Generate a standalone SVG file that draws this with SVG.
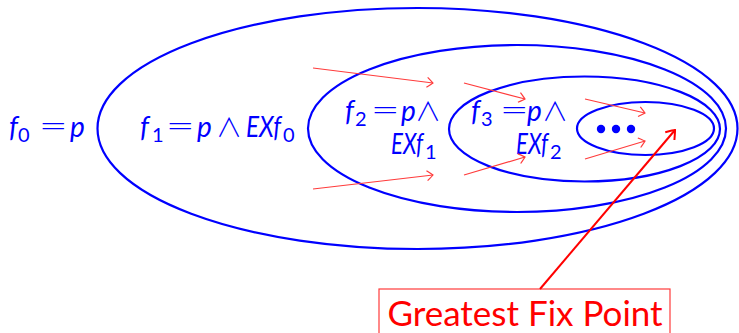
<svg xmlns="http://www.w3.org/2000/svg" width="739" height="333" viewBox="0 0 739 333">
  <style>
    .set { fill: none; stroke: #0000ff; stroke-width: 2.2; }
    .t { font-family: Lato, "Open Sans", sans-serif; fill: #0000ff; }
    .it { font-size: 28px; font-style: italic; }
    .sub { font-size: 20px; }
    .op { font-family: "DejaVu Sans", sans-serif; font-size: 34px; font-weight: 200; }
    .wedge { font-family: "Noto Sans CJK JP", "DejaVu Sans", sans-serif; font-size: 26px; font-weight: 300; }
    .flow { fill: none; stroke: #ff3b3b; stroke-width: 1.2; marker-end: url(#thin); }
    .gfp { fill: none; stroke: #ff0000; stroke-width: 2; marker-end: url(#thick); }
  </style>
  <defs>
    <marker id="thin" viewBox="-8 -6 10 12" refX="0" refY="0" markerWidth="10" markerHeight="12" markerUnits="userSpaceOnUse" orient="auto">
      <path d="M-6,-5 Q-1,-1 0,0 Q-1,1 -6,5" fill="none" stroke="#ff3b3b" stroke-width="1.2"/>
    </marker>
    <marker id="thick" viewBox="-10 -8 12 16" refX="0" refY="0" markerWidth="12" markerHeight="16" markerUnits="userSpaceOnUse" orient="auto">
      <path d="M-8,-6 Q-1,-1 0,0 Q-1,1 -8,6" fill="none" stroke="#ff0000" stroke-width="2"/>
    </marker>
  </defs>

  <g id="f0">
    <text class="t it" x="9" y="137">f</text>
    <text class="t sub" x="18" y="142">0</text>
    <text class="t op" x="39" y="137">=</text>
    <text class="t it" x="70" y="137">p</text>
  </g>

  <g id="f1">
    <ellipse class="set" cx="417.5" cy="128.5" rx="320" ry="120.5"/>
    <text class="t it" x="140" y="137">f</text>
    <text class="t sub" x="152" y="142">1</text>
    <text class="t op" x="166" y="137">=</text>
    <text class="t it" x="197" y="137">p</text>
    <text class="t wedge" x="216" y="137">∧</text>
    <text class="t it" x="246" y="137" textLength="35" lengthAdjust="spacingAndGlyphs">EXf</text>
    <text class="t sub" x="283" y="142">0</text>
  </g>

  <g id="f2">
    <ellipse class="set" cx="517" cy="128.5" rx="209" ry="83.5"/>
    <text class="t it" x="345" y="121">f</text>
    <text class="t sub" x="355" y="126">2</text>
    <text class="t op" x="371" y="121">=</text>
    <text class="t it" x="401" y="121">p</text>
    <text class="t wedge" x="415" y="121">∧</text>
    <text class="t it" x="391" y="154" textLength="32" lengthAdjust="spacingAndGlyphs">EXf</text>
    <text class="t sub" x="425" y="159">1</text>
  </g>

  <g id="f3">
    <ellipse class="set" cx="584.5" cy="129" rx="135.5" ry="52.5"/>
    <text class="t it" x="471" y="121">f</text>
    <text class="t sub" x="481" y="126">3</text>
    <text class="t op" x="500" y="121">=</text>
    <text class="t it" x="527" y="121">p</text>
    <text class="t wedge" x="542" y="121">∧</text>
    <text class="t it" x="516" y="154" textLength="32" lengthAdjust="spacingAndGlyphs">EXf</text>
    <text class="t sub" x="550" y="159">2</text>
  </g>

  <g id="fn">
    <ellipse class="set" cx="645.5" cy="128.5" rx="68.5" ry="26.5"/>
    <circle cx="601" cy="129" r="4.2" fill="#0000ff"/>
    <circle cx="616" cy="129" r="4.2" fill="#0000ff"/>
    <circle cx="631" cy="129" r="4.2" fill="#0000ff"/>
  </g>

  <g id="gfp-label">
    <rect x="379" y="289" width="291" height="46" fill="none" stroke="#ff3b3b" stroke-width="1.2"/>
    <text x="525" y="326" text-anchor="middle" font-family="Lato, 'Open Sans', sans-serif" font-size="35" fill="#ff0000">Greatest Fix Point</text>
  </g>

  <g id="connectors">
    <line class="flow" x1="313" y1="68" x2="433" y2="83"/>
    <line class="flow" x1="313" y1="189" x2="433" y2="175"/>
    <line class="flow" x1="464" y1="83" x2="525" y2="99"/>
    <line class="flow" x1="464" y1="175" x2="525" y2="157"/>
    <line class="flow" x1="585" y1="99" x2="645" y2="113"/>
    <line class="flow" x1="585" y1="159" x2="645" y2="141"/>
    <line class="gfp" x1="540" y1="289" x2="675" y2="130"/>
  </g>
</svg>
